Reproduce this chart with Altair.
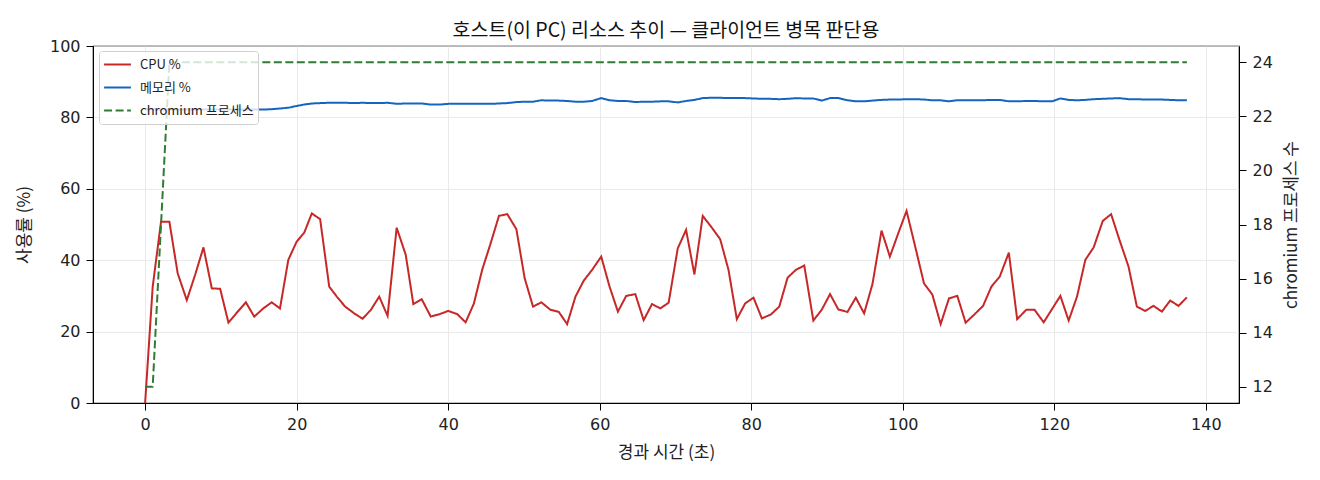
import pandas as pd
import altair as alt

# 경과 시간 (초)
elapsed = [
    0.0, 1.0, 2.1, 3.2, 4.3, 5.5, 6.6, 7.7, 8.8, 9.9,
    11.0, 12.1, 13.3, 14.4, 15.6, 16.7, 17.8, 18.9, 20.0, 21.0,
    22.0, 23.1, 24.3, 25.3, 26.4, 27.6, 28.7, 29.8, 30.9, 32.0,
    33.2, 34.4, 35.4, 36.5, 37.7, 38.9, 40.0, 41.2, 42.3, 43.4,
    44.5, 45.6, 46.7, 47.8, 49.0, 50.1, 51.2, 52.3, 53.5, 54.6,
    55.7, 56.8, 57.9, 59.0, 60.2, 61.3, 62.4, 63.5, 64.7, 65.8,
    66.9, 68.0, 69.1, 70.3, 71.4, 72.5, 73.6, 74.7, 75.9, 77.0,
    78.1, 79.2, 80.3, 81.4, 82.6, 83.7, 84.8, 85.9, 87.0, 88.2,
    89.3, 90.4, 91.5, 92.7, 93.8, 94.9, 96.0, 97.2, 98.3, 99.4,
    100.5, 101.7, 102.8, 103.9, 105.0, 106.1, 107.2, 108.3, 109.5, 110.6,
    111.7, 112.8, 114.0, 115.1, 116.3, 117.4, 118.6, 119.7, 120.8, 121.9,
    123.0, 124.1, 125.2, 126.4, 127.5, 128.6, 129.8, 130.9, 132.0, 133.1,
    134.2, 135.3, 136.4, 137.5,
]

cpu_pct = [
    0.0, 32.6, 50.8, 50.8, 36.3, 28.8, 35.9, 43.6, 32.1, 32.0,
    22.5, 25.3, 28.2, 24.2, 26.5, 28.2, 26.5, 40.1, 45.2, 47.7,
    53.1, 51.5, 32.6, 29.8, 27.0, 25.1, 23.6, 26.1, 29.8, 24.4,
    49.1, 41.5, 27.7, 29.1, 24.2, 24.9, 25.8, 24.9, 22.6, 27.9,
    37.4, 44.7, 52.4, 52.9, 48.7, 34.9, 27.0, 28.2, 26.1, 25.5,
    22.1, 29.8, 34.3, 37.3, 41.0, 32.6, 25.6, 30.0, 30.5, 23.2,
    27.7, 26.5, 28.1, 43.3, 48.5, 36.0, 52.4, 49.4, 45.9, 37.3,
    23.5, 27.9, 29.5, 23.7, 24.8, 27.0, 35.1, 37.3, 38.5, 23.1,
    26.1, 30.5, 26.2, 25.5, 29.5, 25.1, 33.3, 48.3, 41.0, 47.5,
    53.8, 43.3, 33.5, 30.4, 22.1, 29.3, 30.0, 22.5, 24.9, 27.2,
    32.6, 35.4, 42.1, 23.5, 26.1, 26.1, 22.6, 26.3, 30.0, 23.1,
    29.8, 40.1, 43.6, 51.0, 52.9, 45.7, 38.2, 27.0, 25.8, 27.2,
    25.6, 28.7, 27.2, 29.6,
]

mem_pct = [
    82.2, 82.2, 82.2, 82.2, 82.2, 82.2, 82.2, 82.2, 82.2, 82.2,
    82.2, 82.2, 82.2, 82.2, 82.2, 82.3, 82.5, 82.7, 83.2, 83.6,
    83.9, 84.0, 84.1, 84.1, 84.1, 84.0, 84.1, 84.0, 84.0, 84.1,
    83.8, 83.9, 83.9, 83.9, 83.6, 83.6, 83.8, 83.8, 83.8, 83.8,
    83.8, 83.8, 83.9, 84.0, 84.3, 84.4, 84.4, 84.8, 84.7, 84.7,
    84.6, 84.4, 84.4, 84.6, 85.4, 84.8, 84.6, 84.6, 84.3, 84.4,
    84.4, 84.5, 84.5, 84.2, 84.6, 84.9, 85.4, 85.5, 85.5, 85.4,
    85.4, 85.4, 85.3, 85.2, 85.2, 85.1, 85.2, 85.4, 85.3, 85.3,
    84.7, 85.4, 85.4, 84.8, 84.5, 84.5, 84.7, 84.9, 85.0, 85.0,
    85.1, 85.1, 85.0, 84.8, 84.8, 84.5, 84.8, 84.8, 84.8, 84.8,
    84.9, 84.9, 84.5, 84.5, 84.6, 84.6, 84.5, 84.5, 85.3, 84.9,
    84.8, 84.9, 85.1, 85.2, 85.3, 85.4, 85.1, 85.1, 85.0, 85.0,
    85.0, 84.9, 84.8, 84.8,
]

chromium_count = [
    12, 12, 18, 24, 24, 24, 24, 24, 24, 24,
    24, 24, 24, 24, 24, 24, 24, 24, 24, 24,
    24, 24, 24, 24, 24, 24, 24, 24, 24, 24,
    24, 24, 24, 24, 24, 24, 24, 24, 24, 24,
    24, 24, 24, 24, 24, 24, 24, 24, 24, 24,
    24, 24, 24, 24, 24, 24, 24, 24, 24, 24,
    24, 24, 24, 24, 24, 24, 24, 24, 24, 24,
    24, 24, 24, 24, 24, 24, 24, 24, 24, 24,
    24, 24, 24, 24, 24, 24, 24, 24, 24, 24,
    24, 24, 24, 24, 24, 24, 24, 24, 24, 24,
    24, 24, 24, 24, 24, 24, 24, 24, 24, 24,
    24, 24, 24, 24, 24, 24, 24, 24, 24, 24,
    24, 24, 24, 24,
]

series_names = ["CPU %", "메모리 %", "chromium 프로세스"]
series_colors = ["#c62828", "#1565c0", "#2e7d32"]
series_dash = [[1, 0], [1, 0], [8, 3.5]]

FONT = "Noto Sans CJK KR"
TICK_FONT = "DejaVu Sans"

left_df = pd.concat([
    pd.DataFrame({"t": elapsed, "value": cpu_pct, "series": series_names[0]}),
    pd.DataFrame({"t": elapsed, "value": mem_pct, "series": series_names[1]}),
])
right_df = pd.DataFrame({"t": elapsed, "value": chromium_count, "series": series_names[2]})

legend = alt.Legend(
    title=None, orient="none", legendX=6, legendY=5,
    symbolType="stroke", symbolSize=720, symbolStrokeWidth=2,
    labelFontSize=13, labelFont=FONT, labelColor="#222", labelOffset=8,
    fillColor="rgba(255,255,255,0.8)", strokeColor="#d0d0d0",
    padding=4, cornerRadius=3, rowPadding=4, clipHeight=19,
)
color = alt.Color("series:N", scale=alt.Scale(domain=series_names, range=series_colors), legend=legend)
dash = alt.StrokeDash("series:N", scale=alt.Scale(domain=series_names, range=series_dash), legend=legend)

x_enc = alt.X(
    "t:Q", scale=alt.Scale(domain=[-6.88, 144.38], nice=False, zero=False),
    axis=alt.Axis(values=[0, 20, 40, 60, 80, 100, 120, 140], title="경과 시간 (초)",
                  titlePadding=12, grid=True),
)

left = alt.Chart(left_df).mark_line(strokeWidth=2).encode(
    x=x_enc,
    y=alt.Y("value:Q", scale=alt.Scale(domain=[0, 100], nice=False),
            axis=alt.Axis(values=[0, 20, 40, 60, 80, 100], title="사용률 (%)",
                          titlePadding=16, grid=True)),
    color=color,
    strokeDash=dash,
    detail="series:N",
)

right = alt.Chart(right_df).mark_line(strokeWidth=2).encode(
    x=x_enc,
    y=alt.Y("value:Q", scale=alt.Scale(domain=[11.4, 24.6], nice=False, zero=False),
            axis=alt.Axis(orient="right", values=[12, 14, 16, 18, 20, 22, 24],
                          title="chromium 프로세스 수", titleAngle=270, titleBaseline="top",
                          titlePadding=11, grid=False)),
    color=color,
    strokeDash=dash,
)

chart = alt.layer(left, right).resolve_scale(y="independent").properties(
    width=1146,
    height=357,
    autosize=alt.AutoSizeParams(type="none"),
    padding={"left": 85, "top": 38, "right": 65, "bottom": 60},
    title=alt.Title("호스트(이 PC) 리소스 추이 — 클라이언트 병목 판단용", fontSize=19.5,
                    fontWeight="normal", font=FONT, color="#111", offset=7, dy=10),
).configure_view(
    stroke="black", strokeWidth=1.2
).configure_axis(
    labelFont=TICK_FONT, titleFont=FONT, labelFontSize=16, titleFontSize=17,
    labelColor="#222", titleColor="#222", titleFontWeight="normal",
    domainColor="black", tickColor="black", tickSize=7, labelPadding=6,
    gridColor="#e4e4e4", gridWidth=0.8,
)

chart.save("out.html", embed_options={"renderer": "svg", "actions": False})
